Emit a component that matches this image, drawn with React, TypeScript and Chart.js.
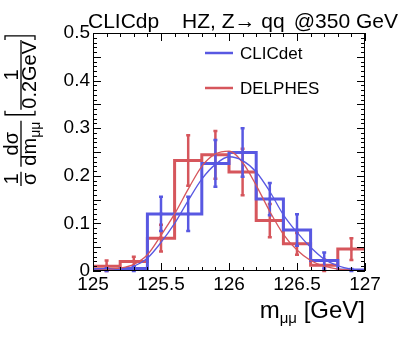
import React, { useEffect, useRef } from 'react';
import { Chart, registerables } from 'chart.js';

Chart.register(...registerables);

const FONT = '"Liberation Sans", Arial, "DejaVu Sans", sans-serif';

const binEdges = [125.0, 125.2, 125.4, 125.6, 125.8, 126.0, 126.2, 126.4, 126.6, 126.8, 127.0];
const binCenters = [125.1, 125.3, 125.5, 125.7, 125.9, 126.1, 126.3, 126.5, 126.7, 126.9];

const clicdetValues = [0.003, 0.005, 0.12, 0.12, 0.226, 0.249, 0.151, 0.086, 0.022, 0.002];
const clicdetErrors = [0.003, 0.005, 0.036, 0.036, 0.049, 0.051, 0.034, 0.033, 0.017, 0.002];
const delphesValues = [0.01, 0.02, 0.069, 0.232, 0.244, 0.208, 0.106, 0.057, 0.012, 0.046];
const delphesErrors = [0.012, 0.01, 0.028, 0.053, 0.05, 0.049, 0.035, 0.023, 0.012, 0.023];

const fitX = [125.0, 125.1, 125.2, 125.3, 125.4, 125.5, 125.6, 125.7, 125.8, 125.9, 126.0, 126.1, 126.2, 126.3, 126.4, 126.5, 126.6, 126.7, 126.8, 126.9, 127.0];
const clicdetFit = [0.0005, 0.001, 0.003, 0.01, 0.027, 0.06, 0.1, 0.148, 0.193, 0.224, 0.24, 0.232, 0.208, 0.167, 0.118, 0.081, 0.05, 0.025, 0.011, 0.004, 0.002];
const delphesFit = [0.001, 0.003, 0.006, 0.014, 0.034, 0.075, 0.12, 0.172, 0.22, 0.246, 0.252, 0.228, 0.18, 0.125, 0.077, 0.044, 0.022, 0.01, 0.004, 0.002, 0.001];

const xTickValues = [125, 125.5, 126, 126.5, 127];
const titleParts = ['CLICdp', 'HZ, Z\u2192 qq', '@350 GeV'];
const legendLabels = ['CLICdet', 'DELPHES'];

const BLUE = 'rgb(88, 88, 226)';
const RED = 'rgb(214, 86, 92)';

function histPoints(values: number[]) {
  return binEdges.map((e, i) => ({ x: e, y: values[Math.min(i, values.length - 1)] }));
}

function fitPoints(values: number[]) {
  return fitX.map((x, i) => ({ x, y: values[i] }));
}

function drawErrors(chart: any, values: number[], errors: number[], color: string) {
  const { ctx, scales } = chart;
  const xs = scales.x;
  const ys = scales.y;
  ctx.save();
  ctx.strokeStyle = color;
  ctx.fillStyle = color;
  ctx.lineWidth = 2.5;
  binCenters.forEach((c, i) => {
    const px = xs.getPixelForValue(c);
    const top = ys.getPixelForValue(values[i] + errors[i]);
    const bot = ys.getPixelForValue(Math.max(0, values[i] - errors[i]));
    ctx.beginPath();
    ctx.moveTo(px, top);
    ctx.lineTo(px, bot);
    ctx.stroke();
    ctx.beginPath();
    ctx.moveTo(px - 2, top);
    ctx.lineTo(px + 2, top);
    ctx.moveTo(px - 2, bot);
    ctx.lineTo(px + 2, bot);
    ctx.stroke();
    ctx.beginPath();
    ctx.arc(px, ys.getPixelForValue(values[i]), 1.8, 0, Math.PI * 2);
    ctx.fill();
  });
  ctx.restore();
}

function drawYTitle(ctx: CanvasRenderingContext2D) {
  ctx.save();
  ctx.translate(21, 186);
  ctx.rotate(-Math.PI / 2);
  ctx.fillStyle = '#000';
  ctx.strokeStyle = '#000';
  ctx.textAlign = 'left';
  ctx.textBaseline = 'alphabetic';
  const f = `20px ${FONT}`;
  const fs = `14px ${FONT}`;
  let u = 0;
  const frac = (num: string, den: string, sub?: string) => {
    ctx.font = f;
    const wn = ctx.measureText(num).width;
    const wd = ctx.measureText(den).width;
    let ws = 0;
    if (sub) {
      ctx.font = fs;
      ws = ctx.measureText(sub).width;
    }
    const w = Math.max(wn, wd + ws) + 2;
    ctx.lineWidth = 1.3;
    ctx.beginPath();
    ctx.moveTo(u, 0);
    ctx.lineTo(u + w, 0);
    ctx.stroke();
    ctx.font = f;
    ctx.fillText(num, u + (w - wn) / 2, -3);
    ctx.fillText(den, u + (w - wd - ws) / 2, 15);
    if (sub) {
      ctx.font = fs;
      ctx.fillText(sub, u + (w - wd - ws) / 2 + wd, 19);
    }
    u += w;
  };
  const bracket = (open: boolean) => {
    ctx.lineWidth = 1.3;
    ctx.beginPath();
    const d = open ? 4 : -4;
    ctx.moveTo(u + d, -16);
    ctx.lineTo(u, -16);
    ctx.lineTo(u, 14);
    ctx.lineTo(u + d, 14);
    ctx.stroke();
  };
  frac('1', '\u03c3');
  u += 5;
  frac('d\u03c3', 'dm', '\u03bc\u03bc');
  u += 6;
  bracket(true);
  u += 5;
  frac('1', '0.2GeV');
  u += 4;
  bracket(false);
  ctx.restore();
}

const decorPlugin = {
  id: 'decor',
  afterDatasetDraw(chart: any, args: any) {
    if (args.index === 3) drawErrors(chart, delphesValues, delphesErrors, RED);
    if (args.index === 2) drawErrors(chart, clicdetValues, clicdetErrors, BLUE);
  },
  afterDraw(chart: any) {
    const { ctx, chartArea: a, scales } = chart;
    const xs = scales.x;
    const ys = scales.y;
    ctx.save();
    ctx.strokeStyle = '#000';
    ctx.lineWidth = 1;
    ctx.strokeRect(a.left + 0.5, a.top + 0.5, a.right - a.left - 1, a.bottom - a.top - 1);
    for (let k = 0; k <= 20; k++) {
      const v = 125 + k * 0.1;
      const px = Math.round(xs.getPixelForValue(v)) + 0.5;
      const major = k % 5 === 0;
      const len = major ? 8 : 4;
      ctx.beginPath();
      ctx.moveTo(px, a.bottom);
      ctx.lineTo(px, a.bottom - len);
      ctx.moveTo(px, a.top);
      ctx.lineTo(px, a.top + len);
      ctx.stroke();
    }
    for (let k = 0; k <= 50; k++) {
      const v = k * 0.01;
      const py = Math.round(ys.getPixelForValue(v)) + 0.5;
      const major = k % 5 === 0;
      const len = major ? 8 : 4;
      ctx.beginPath();
      ctx.moveTo(a.left, py);
      ctx.lineTo(a.left + len, py);
      ctx.moveTo(a.right, py);
      ctx.lineTo(a.right - len, py);
      ctx.stroke();
    }
    ctx.fillStyle = '#000';
    ctx.textBaseline = 'alphabetic';
    ctx.font = `21px ${FONT}`;
    ctx.textAlign = 'left';
    ctx.fillText(titleParts[0], 88, 28);
    ctx.fillText(titleParts[1], 182, 28);
    ctx.textAlign = 'right';
    ctx.fillText(titleParts[2], 398, 28);
    const legendY = [53, 88];
    const legendColors = [BLUE, RED];
    ctx.textAlign = 'left';
    ctx.textBaseline = 'middle';
    ctx.font = `17px ${FONT}`;
    legendLabels.forEach((lab, i) => {
      ctx.strokeStyle = legendColors[i];
      ctx.lineWidth = 2.5;
      ctx.beginPath();
      ctx.moveTo(205, legendY[i]);
      ctx.lineTo(233, legendY[i]);
      ctx.stroke();
      ctx.fillStyle = '#000';
      ctx.fillText(lab, 240, legendY[i] + 1);
    });
    ctx.textBaseline = 'alphabetic';
    ctx.font = `24px ${FONT}`;
    const wm = ctx.measureText('m').width;
    const wr = ctx.measureText(' [GeV]').width;
    ctx.font = `15px ${FONT}`;
    const wsub = ctx.measureText('\u03bc\u03bc').width;
    const x0 = a.right - (wm + wsub + wr);
    ctx.font = `24px ${FONT}`;
    ctx.fillText('m', x0, 318);
    ctx.fillText(' [GeV]', x0 + wm + wsub, 318);
    ctx.font = `15px ${FONT}`;
    ctx.fillText('\u03bc\u03bc', x0 + wm, 323);
    ctx.restore();
    drawYTitle(ctx);
  },
};

export default function App() {
  const ref = useRef<HTMLCanvasElement | null>(null);
  useEffect(() => {
    if (!ref.current) return;
    const chart = new Chart(ref.current, {
      type: 'line',
      data: {
        datasets: [
          {
            label: 'CLICdet fit',
            data: fitPoints(clicdetFit),
            borderColor: BLUE,
            borderWidth: 1.3,
            pointRadius: 0,
            cubicInterpolationMode: 'monotone',
            fill: false,
          },
          {
            label: 'DELPHES fit',
            data: fitPoints(delphesFit),
            borderColor: RED,
            borderWidth: 1.3,
            pointRadius: 0,
            cubicInterpolationMode: 'monotone',
            fill: false,
          },
          {
            label: legendLabels[0],
            data: histPoints(clicdetValues),
            borderColor: BLUE,
            borderWidth: 3,
            pointRadius: 0,
            stepped: 'before',
            fill: false,
          },
          {
            label: legendLabels[1],
            data: histPoints(delphesValues),
            borderColor: RED,
            borderWidth: 3,
            pointRadius: 0,
            stepped: 'before',
            fill: false,
          },
        ],
      },
      options: {
        animation: false,
        responsive: false,
        devicePixelRatio: 1,
        layout: { padding: { top: 33, right: 42, left: 0, bottom: 0 } },
        plugins: { legend: { display: false }, tooltip: { enabled: false }, title: { display: false } },
        scales: {
          x: {
            type: 'linear',
            min: 125,
            max: 127,
            afterBuildTicks: (s: any) => {
              s.ticks = xTickValues.map((v) => ({ value: v }));
            },
            afterFit: (s: any) => {
              s.height = 77;
            },
            grid: { display: false, drawTicks: false },
            border: { display: false },
            ticks: {
              color: '#000',
              padding: 2,
              maxRotation: 0,
              autoSkip: false,
              font: { family: FONT, size: 19 },
              callback: (v: any) => String(v),
            },
          },
          y: {
            type: 'linear',
            min: 0,
            max: 0.5,
            afterFit: (s: any) => {
              s.width = 93;
            },
            grid: { display: false, drawTicks: false },
            border: { display: false },
            ticks: {
              color: '#000',
              stepSize: 0.05,
              padding: 3,
              font: { family: FONT, size: 19 },
              callback: (v: any) => String(parseFloat(Number(v).toFixed(2))),
            },
          },
        },
      },
      plugins: [decorPlugin],
    } as any);
    return () => chart.destroy();
  }, []);
  return (
    <div style={{ position: 'absolute', left: 0, top: 0, width: 407, height: 348, background: '#fff' }}>
      <canvas ref={ref} width={407} height={348} />
    </div>
  );
}
